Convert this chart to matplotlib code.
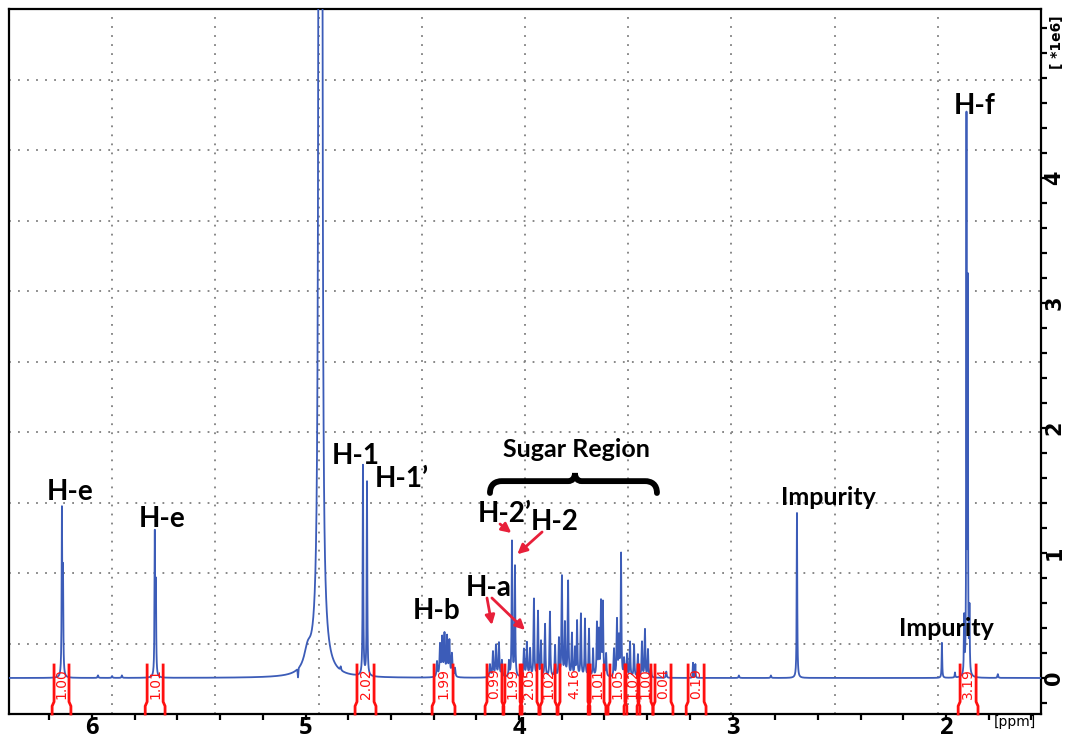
import numpy as np
import matplotlib
matplotlib.use("Agg")
import matplotlib.pyplot as plt
from matplotlib.path import Path
from matplotlib.patches import PathPatch
from matplotlib.ticker import MultipleLocator, FixedLocator

# ---------------- data ----------------
# peak positions (ppm), heights (x1e6) and half-widths (ppm)
peak_ppm = [6.141, 6.136, 5.706, 5.701,
            5.972, 5.906, 5.860,
            4.990, 4.935, 4.925, 4.930, 4.835,
            4.731, 4.712,
            4.384, 4.370, 4.360, 4.349, 4.337, 4.326, 4.314, 4.300,
            4.136, 4.122, 4.108, 4.094, 4.080,
            4.047, 4.033, 4.019,
            3.977, 3.963, 3.948,
            3.930, 3.911, 3.897, 3.878, 3.855, 3.831, 3.813, 3.799, 3.785, 3.770,
            3.752, 3.738, 3.728, 3.710, 3.691, 3.672, 3.653, 3.635, 3.626, 3.616,
            3.607, 3.592, 3.555, 3.541, 3.532, 3.522, 3.508, 3.494, 3.480, 3.461,
            3.443, 3.424, 3.410, 3.396, 3.382,
            3.310, 3.185, 3.174, 2.970, 2.820,
            2.698, 2.019, 1.958, 1.915, 1.904, 1.898, 1.890, 1.757]
peak_height = [1.30, 0.80, 1.12, 0.70,
               0.02, 0.015, 0.02,
               0.15, 25.0, 20.0, 0.45, 0.03,
               1.68, 1.55,
               0.12, 0.25, 0.30, 0.33, 0.31, 0.28, 0.18, 0.07,
               0.10, 0.20, 0.25, 0.27, 0.13,
               0.12, 1.08, 0.88,
               0.22, 0.27, 0.22,
               0.62, 0.52, 0.28, 0.42, 0.52, 0.25, 0.30, 0.80, 0.42, 0.76,
               0.34, 0.22, 0.44, 0.50, 0.46, 0.38, 0.22, 0.42, 0.35, 0.58,
               0.58, 0.18, 0.22, 0.45, 0.30, 0.98, 0.14, 0.18, 0.28, 0.26,
               0.18, 0.28, 0.38, 0.22, 0.08,
               0.05, 0.12, 0.11, 0.02, 0.02,
               1.32, 0.28, 0.04, 0.45, 4.40, 3.05, 0.50, 0.03]
peak_width = [0.0016, 0.0016, 0.0016, 0.0016,
              0.002, 0.002, 0.002,
              0.02, 0.0025, 0.0025, 0.025, 0.002,
              0.0016, 0.0016,
              0.0025, 0.0025, 0.0025, 0.0025, 0.0025, 0.0025, 0.0025, 0.0025,
              0.0025, 0.0025, 0.0025, 0.0025, 0.0025,
              0.002, 0.0018, 0.0018,
              0.0025, 0.0025, 0.0025,
              0.002, 0.002, 0.002, 0.002, 0.002, 0.002, 0.002, 0.002, 0.002, 0.002,
              0.002, 0.002, 0.002, 0.002, 0.002, 0.002, 0.002, 0.002, 0.002, 0.002,
              0.002, 0.002, 0.002, 0.002, 0.002, 0.0018, 0.002, 0.002, 0.002, 0.002,
              0.002, 0.002, 0.002, 0.002, 0.002,
              0.002, 0.0012, 0.0012, 0.002, 0.002,
              0.0015, 0.0015, 0.0015, 0.0015, 0.0012, 0.0012, 0.0015, 0.002]

# integral regions (ppm, left/right) and values
int_left = [6.178, 5.742, 4.759, 4.398, 4.150, 4.066, 3.986, 3.892, 3.808,
            3.667, 3.574, 3.499, 3.438, 3.363, 3.208, 1.934]
int_right = [6.108, 5.667, 4.679, 4.309, 4.080, 3.995, 3.916, 3.831, 3.677,
             3.602, 3.504, 3.443, 3.382, 3.288, 3.133, 1.859]
int_value = ["1.00", "1.01", "2.02", "1.99", "0.99", "1.99", "2.05", "1.02", "4.16",
             "1.01", "1.05", "1.02", "1.00", "0.04", "0.19", "3.19"]

# annotation labels: text, ppm, intensity (baseline), size
label_text = ["H-e", "H-e", "H-1", "H-1\u2019", "H-b", "H-a", "H-2\u2019", "H-2",
              "Sugar Region", "Impurity", "Impurity", "H-f"]
label_ppm = [6.103, 5.672, 4.763, 4.548, 4.384, 4.141, 4.066, 3.831,
             3.733, 2.553, 2.000, 1.864]
label_y = [1.424, 1.208, 1.712, 1.528, 0.472, 0.656, 1.248, 1.184,
           1.768, 1.384, 0.336, 4.512]
label_size = [20, 20, 20, 20, 20, 20, 20, 20, 18, 18, 18, 20]

x_ticks = [6, 5, 4, 3, 2]
y_ticks = [0, 1, 2, 3, 4]

XMIN, XMAX = 6.389, 1.555
YMIN, YMAX = -0.288, 5.352

# ---------------- build spectrum ----------------
ppm = np.arange(XMAX, XMIN, 0.0002)
intensity = np.zeros_like(ppm)
for p, h, w in zip(peak_ppm, peak_height, peak_width):
    intensity += h * w**2 / ((ppm - p) ** 2 + w**2)
intensity -= 0.07 * np.exp(-((ppm - 5.035) / 0.002) ** 2)

# ---------------- figure ----------------
fig = plt.figure(figsize=(10.67, 7.39), dpi=100)
ax = fig.add_axes([9 / 1067, 1 - 714 / 739, (1041 - 9) / 1067, (714 - 9) / 739])
ax.set_xlim(XMIN, XMAX)
ax.set_ylim(YMIN, YMAX)

# dotted grid: 10 equal divisions
grid_c = "#7f7f7f"
for gx in np.linspace(XMIN, XMAX, 11)[1:-1]:
    ax.axvline(gx, color=grid_c, lw=1.3, ls=(0, (1, 4)), zorder=1)
for gy in np.linspace(YMIN, YMAX, 11)[1:-1]:
    ax.axhline(gy, color=grid_c, lw=1.3, ls=(0, (1, 4)), zorder=1)

ax.plot(ppm, intensity, color="#3c5cb8", lw=1.3, zorder=3)

# integrals
red = "#ff1010"
d = 0.009
for l, r, v in zip(int_left, int_right, int_value):
    ax.plot([l, l, l + d, l + d], [0.104, -0.19, -0.225, YMIN], color=red, lw=2.0,
            zorder=5, solid_joinstyle="miter", clip_on=False)
    ax.plot([r, r, r - d, r - d], [0.104, -0.19, -0.225, YMIN], color=red, lw=2.0,
            zorder=5, solid_joinstyle="miter", clip_on=False)
    ax.text((l + r) / 2, -0.045, v, rotation=90, color=red, fontsize=10,
            ha="center", va="center", zorder=6, family="DejaVu Sans")

# labels
for t, x, y, s in zip(label_text, label_ppm, label_y, label_size):
    ax.text(x, y, t, fontsize=s, fontweight="bold", family="Lato",
            ha="center", va="baseline", color="black", zorder=7)

# curly brace over sugar region
verts = [(4.136, 1.48), (4.136, 1.55), (4.11, 1.575), (4.08, 1.575),
         (3.77, 1.575),
         (3.75, 1.575), (3.738, 1.60), (3.738, 1.64),
         (3.738, 1.60), (3.726, 1.575), (3.706, 1.575),
         (3.41, 1.575),
         (3.38, 1.575), (3.354, 1.55), (3.354, 1.48)]
codes = [Path.MOVETO, Path.CURVE4, Path.CURVE4, Path.CURVE4,
         Path.LINETO,
         Path.CURVE4, Path.CURVE4, Path.CURVE4,
         Path.CURVE4, Path.CURVE4, Path.CURVE4,
         Path.LINETO,
         Path.CURVE4, Path.CURVE4, Path.CURVE4]
ax.add_patch(PathPatch(Path(verts, codes), fill=False, lw=4.2, color="black",
                       zorder=7, capstyle="round"))

# red arrows
arrow_c = "#e8203a"
arrows = [((4.089, 1.232), (4.036, 1.160)),
          ((3.892, 1.168), (4.008, 0.990)),
          ((4.150, 0.640), (4.127, 0.424)),
          ((4.127, 0.640), (3.972, 0.384))]
for (x0, y0), (x1, y1) in arrows:
    ax.annotate("", xy=(x1, y1), xytext=(x0, y0),
                arrowprops=dict(arrowstyle="-|>", color=arrow_c, lw=2.0,
                                mutation_scale=14, shrinkA=0, shrinkB=0),
                zorder=8)

# axes styling
for sp in ax.spines.values():
    sp.set_linewidth(1.6)
ax.yaxis.tick_right()
ax.xaxis.set_major_locator(FixedLocator(x_ticks))
ax.xaxis.set_minor_locator(MultipleLocator(0.2))
ax.yaxis.set_major_locator(FixedLocator(y_ticks + [5]))
ax.yaxis.set_minor_locator(MultipleLocator(0.2))
ax.set_xticklabels([str(t) for t in x_ticks])
ax.set_yticklabels([str(t) for t in y_ticks] + [""])
ax.tick_params(axis="both", which="major", length=4.5, width=1.6, direction="out")
ax.tick_params(axis="both", which="minor", length=4.5, width=1.6, direction="out")
ax.tick_params(axis="x", which="major", pad=-3)
ax.tick_params(axis="y", which="major", pad=-2, labelrotation=90)
for lab in ax.get_xticklabels():
    lab.set_fontsize(17)
    lab.set_fontweight("bold")
    lab.set_family("Open Sans")
for lab in ax.get_yticklabels():
    lab.set_fontsize(15)
    lab.set_fontweight("bold")
    lab.set_family("DejaVu Sans")
    lab.set_va("center")

fig.text(1015 / 1067, 1 - 722 / 739, "[ppm]", fontsize=10, ha="center", va="center")
fig.text(1057 / 1067, 1 - 42 / 739, "[ *1e6]", fontsize=10, fontweight="bold",
         rotation=90, ha="center", va="center")

fig.savefig("out.png", dpi=100)
